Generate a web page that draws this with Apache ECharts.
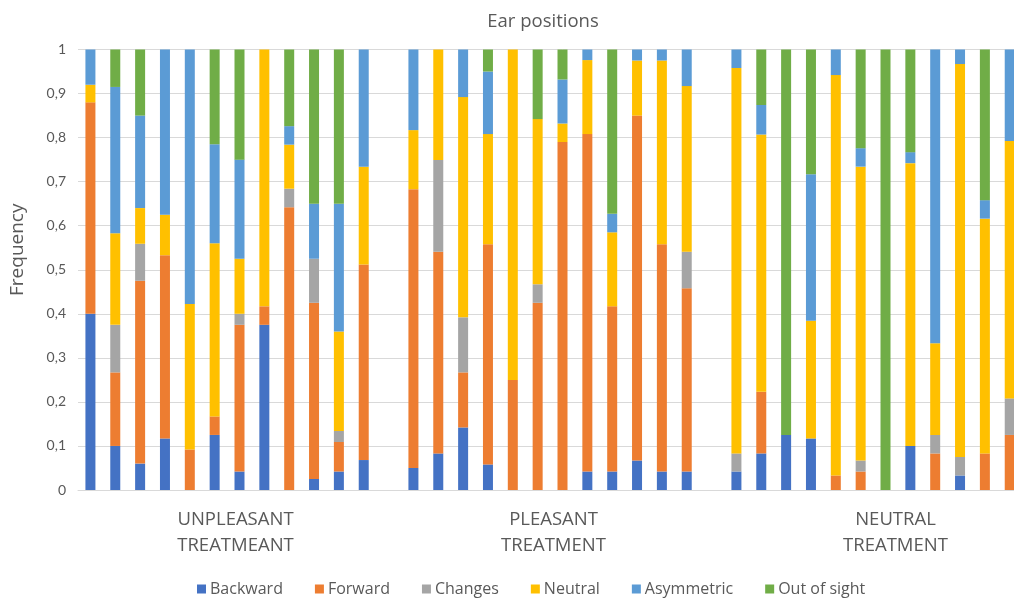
<!DOCTYPE html>
<html>
<head>
<meta charset="utf-8">
<title>Ear positions</title>
<script src="https://cdn.jsdelivr.net/npm/echarts@6/dist/echarts.min.js"></script>
<style>
  html, body { margin: 0; padding: 0; background: #ffffff; overflow: hidden; }
  /* the last group's trailing slot runs past the right edge of the window */
  #chart { width: 1047px; height: 598px; }
</style>
</head>
<body>
<div id="chart"></div>
<script>
// Treatment groups (12 subjects each)
const groups = ['UNPLEASANT\nTREATMEANT', 'PLEASANT\nTREATMENT', 'NEUTRAL\nTREATMENT'];
const perGroup = 12;

// Share of observation time per ear position, subject by subject
const backward = [
  0.40, 0.10, 0.06, 0.117, 0, 0.125, 0.042, 0.375, 0, 0.025, 0.042, 0.068,
  0.05, 0.083, 0.142, 0.058, 0, 0, 0, 0.042, 0.042, 0.067, 0.042, 0.042,
  0.042, 0.083, 0.125, 0.117, 0, 0, 0, 0.10, 0, 0.033, 0, 0
];
const forward = [
  0.48, 0.167, 0.415, 0.416, 0.092, 0.042, 0.333, 0.042, 0.642, 0.40, 0.067, 0.444,
  0.633, 0.458, 0.125, 0.50, 0.25, 0.425, 0.79, 0.766, 0.375, 0.783, 0.516, 0.416,
  0, 0.14, 0, 0, 0.033, 0.042, 0, 0, 0.083, 0, 0.083, 0.125
];
const changes = [
  0, 0.108, 0.084, 0, 0, 0, 0.025, 0, 0.042, 0.10, 0.025, 0,
  0, 0.208, 0.125, 0, 0, 0.042, 0, 0, 0, 0, 0, 0.083,
  0.041, 0, 0, 0, 0, 0.025, 0, 0, 0.042, 0.042, 0, 0.083
];
const neutral = [
  0.04, 0.208, 0.081, 0.092, 0.33, 0.393, 0.125, 0.583, 0.10, 0, 0.226, 0.222,
  0.134, 0.251, 0.50, 0.25, 0.75, 0.375, 0.042, 0.168, 0.168, 0.125, 0.417, 0.376,
  0.875, 0.584, 0, 0.267, 0.909, 0.667, 0, 0.642, 0.208, 0.892, 0.533, 0.584
];
const asymmetric = [
  0.08, 0.332, 0.21, 0.375, 0.578, 0.225, 0.225, 0, 0.042, 0.125, 0.29, 0.266,
  0.183, 0, 0.108, 0.142, 0, 0, 0.10, 0.024, 0.042, 0.025, 0.025, 0.083,
  0.042, 0.067, 0, 0.333, 0.058, 0.042, 0, 0.025, 0.667, 0.033, 0.042, 0.208
];
const outOfSight = [
  0, 0.085, 0.15, 0, 0, 0.215, 0.25, 0, 0.174, 0.35, 0.35, 0,
  0, 0, 0, 0.05, 0, 0.158, 0.068, 0, 0.373, 0, 0, 0,
  0, 0.126, 0.875, 0.283, 0, 0.224, 1.0, 0.233, 0, 0, 0.342, 0
];

const seriesNames = ['Backward', 'Forward', 'Changes', 'Neutral', 'Asymmetric', 'Out of sight'];
const seriesValues = [backward, forward, changes, neutral, asymmetric, outOfSight];
const seriesColors = ['#4472C4', '#ED7D31', '#A5A5A5', '#FFC000', '#5B9BD5', '#70AD47'];

const yTickLabels = ['0', '0,1', '0,2', '0,3', '0,4', '0,5', '0,6', '0,7', '0,8', '0,9', '1'];

// Category slots: each group is followed by an empty slot that separates it from the next
const slots = [];
groups.forEach((g, gi) => {
  for (let i = 0; i < perGroup; i++) slots.push(g.split('\n')[0] + ' ' + (i + 1));
  slots.push('gap' + gi);
});

function toSlots(values) {
  const out = [];
  for (let gi = 0; gi < groups.length; gi++) {
    for (let i = 0; i < perGroup; i++) out.push(values[gi * perGroup + i]);
    out.push(null);
  }
  return out;
}

const font = '"Open Sans", Lato, sans-serif';
const tickFont = 'Lato, "Open Sans", sans-serif';
const textGray = '#595959';
const groupFontSize = 18.5;

// Small horizontal nudges for the group captions
const groupRich = {
  g0: { fontFamily: font, fontSize: groupFontSize, color: textGray, lineHeight: 26, padding: [0, 8, 0, 0] },
  g1: { fontFamily: font, fontSize: groupFontSize, color: textGray, lineHeight: 26, padding: [0, 18, 0, 0] },
  g2: { fontFamily: font, fontSize: groupFontSize, color: textGray, lineHeight: 26, padding: [0, 0, 0, 20] }
};

const chart = echarts.init(document.getElementById('chart'), null, { renderer: 'canvas' });

chart.setOption({
  animation: false,
  backgroundColor: '#ffffff',
  title: {
    text: 'Ear positions',
    left: 538,
    top: 7,
    textAlign: 'center',
    textStyle: { fontFamily: font, fontSize: 18.5, fontWeight: 'normal', color: textGray }
  },
  legend: {
    data: seriesNames,
    left: 197,
    top: 581,
    padding: 0,
    icon: 'rect',
    itemWidth: 9,
    itemHeight: 9,
    itemGap: 32,
    textStyle: { fontFamily: font, fontSize: 16, color: textGray, padding: [0, 0, 0, -1] }
  },
  grid: {
    left: 76,
    right: 0,
    top: 49.5,
    height: 440.5,
    containLabel: false
  },
  xAxis: [
    {
      type: 'category',
      data: slots,
      position: 'bottom',
      axisLine: { show: true, lineStyle: { color: '#D9D9D9', width: 1 } },
      axisTick: { show: false },
      axisLabel: { show: false },
      splitLine: { show: false }
    },
    {
      type: 'category',
      data: groups,
      position: 'bottom',
      axisLine: { show: false },
      axisTick: { show: false },
      splitLine: { show: false },
      axisLabel: {
        interval: 0,
        margin: 17,
        fontFamily: font,
        fontSize: groupFontSize,
        color: textGray,
        lineHeight: 26,
        formatter: (v, i) => v.split('\n').map(line => '{g' + i + '|' + line + '}').join('\n'),
        rich: groupRich
      }
    }
  ],
  yAxis: {
    type: 'value',
    min: 0,
    max: 1,
    interval: 0.1,
    name: 'Frequency',
    nameLocation: 'middle',
    nameGap: 51,
    nameTextStyle: { fontFamily: font, fontSize: 19, color: textGray, padding: [0, 0, 0, 40] },
    axisLine: { show: false },
    axisTick: { show: false },
    axisLabel: {
      margin: 12,
      fontFamily: tickFont,
      fontSize: 14,
      color: textGray,
      formatter: v => yTickLabels[Math.round(v * 10)]
    },
    splitLine: { show: true, lineStyle: { color: '#D9D9D9', width: 1 } }
  },
  series: seriesNames.map((name, k) => ({
    name: name,
    type: 'bar',
    stack: 'share',
    xAxisIndex: 0,
    barWidth: 10,
    itemStyle: { color: seriesColors[k] },
    data: toSlots(seriesValues[k])
  }))
});
</script>
</body>
</html>
